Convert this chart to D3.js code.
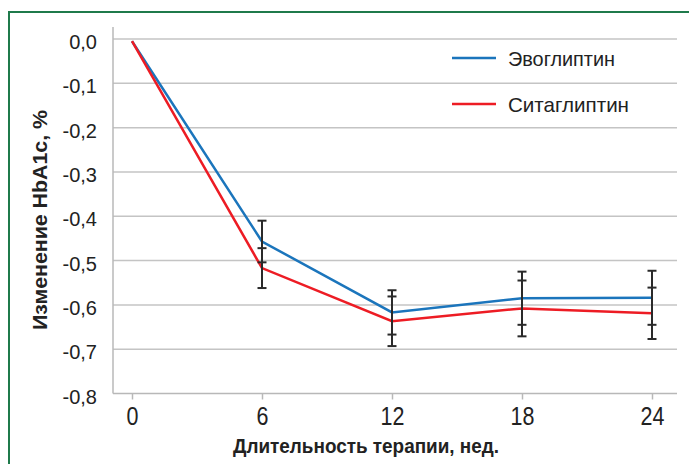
<!DOCTYPE html>
<html>
<head>
<meta charset="utf-8">
<script src="https://cdn.jsdelivr.net/npm/d3@7"></script>
<style>
  body { margin: 0; background: #fff; }
  svg { display: block; }
</style>
</head>
<body>
<div id="chart"></div>
<script>
// weeks of therapy
const weeks = [0, 6, 12, 18, 24];
const seriesNames = ["Эвоглиптин", "Ситаглиптин"];
const seriesColors = ["#1b75bc", "#ed1c24"];

// HbA1c change, %
const evoValues = [-0.005, -0.457, -0.617, -0.585, -0.584];
const sitaValues = [-0.005, -0.517, -0.637, -0.608, -0.619];
// error bar half widths (none at week 0)
const evoErr = [0, 0.047, 0.05, 0.06, 0.061];
const sitaErr = [0, 0.045, 0.056, 0.063, 0.058];

const yTicks = [0, -0.1, -0.2, -0.3, -0.4, -0.5, -0.6, -0.7, -0.8];

const width = 689;
const height = 464;
const font = "'Liberation Sans', Arial, sans-serif";

const svg = d3
  .select("#chart")
  .append("svg")
  .attr("width", width)
  .attr("height", height);

// green frame, open at right and bottom
svg
  .append("path")
  .attr("d", "M9,470 V12 H700")
  .attr("fill", "none")
  .attr("stroke", "#1f7a4b")
  .attr("stroke-width", 2);

const xScale = d3.scaleLinear().domain([0, 24]).range([132, 652]);
const yScale = d3.scaleLinear().domain([0, -0.8]).range([39, 393.5]);

const plotLeft = 113;
const plotRight = 677;

// horizontal grid lines
svg
  .append("g")
  .selectAll("line")
  .data(yTicks.slice(0, -1))
  .enter()
  .append("line")
  .attr("x1", plotLeft)
  .attr("x2", plotRight)
  .attr("y1", (d) => yScale(d))
  .attr("y2", (d) => yScale(d))
  .attr("stroke", "#c4c4c4")
  .attr("stroke-width", 1.5);

// x axis
const xAxis = svg
  .append("g")
  .attr("transform", `translate(0, ${yScale(-0.8)})`)
  .call(d3.axisBottom(xScale).tickValues(weeks).tickSize(6).tickPadding(8));
xAxis.select(".domain").remove();
xAxis.selectAll(".tick line").attr("stroke", "#b8b8b8").attr("stroke-width", 1.5);
// narrow, tall digits like the condensed face of the original
xAxis
  .selectAll("text")
  .attr("font-family", font)
  .attr("font-size", 25)
  .attr("fill", "#222")
  .attr("transform", "scale(0.86,1)");
svg
  .append("line")
  .attr("x1", plotLeft)
  .attr("x2", plotRight)
  .attr("y1", yScale(-0.8))
  .attr("y2", yScale(-0.8))
  .attr("stroke", "#b8b8b8")
  .attr("stroke-width", 1.5);

// y axis
const yAxis = svg
  .append("g")
  .attr("transform", `translate(${plotLeft}, 0)`)
  .call(
    d3
      .axisLeft(yScale)
      .tickValues(yTicks)
      .tickSize(0)
      .tickPadding(16)
      .tickFormat((d) => d3.format(".1f")(d).replace(".", ",").replace("−", "-"))
  );
yAxis.select(".domain").remove();
yAxis
  .selectAll("text")
  .attr("font-family", font)
  .attr("font-size", 20)
  .attr("dy", "0.48em")
  .attr("fill", "#222");
svg
  .append("line")
  .attr("x1", plotLeft)
  .attr("x2", plotLeft)
  .attr("y1", 27)
  .attr("y2", yScale(-0.8))
  .attr("stroke", "#b8b8b8")
  .attr("stroke-width", 1.5);

// lines
const line = d3
  .line()
  .x((d, i) => xScale(weeks[i]))
  .y((d) => yScale(d));

const allValues = [evoValues, sitaValues];
const allErr = [evoErr, sitaErr];

allValues.forEach((vals, s) => {
  svg
    .append("path")
    .datum(vals)
    .attr("d", line)
    .attr("fill", "none")
    .attr("stroke", seriesColors[s])
    .attr("stroke-width", 2.5);
});

// error bars
allValues.forEach((vals, s) => {
  const g = svg.append("g");
  weeks.forEach((w, i) => {
    if (allErr[s][i] === 0) return;
    const x = xScale(w);
    const top = yScale(vals[i] + allErr[s][i]);
    const bottom = yScale(vals[i] - allErr[s][i]);
    g.append("line")
      .attr("x1", x)
      .attr("x2", x)
      .attr("y1", top)
      .attr("y2", bottom)
      .attr("stroke", "#2a2a2a")
      .attr("stroke-width", 2);
    [top, bottom].forEach((y) => {
      g.append("line")
        .attr("x1", x - 4.5)
        .attr("x2", x + 4.5)
        .attr("y1", y)
        .attr("y2", y)
        .attr("stroke", "#2a2a2a")
        .attr("stroke-width", 2);
    });
  });
});

// legend
const legendWidths = [107, 121];
const legend = svg
  .append("g")
  .selectAll("g")
  .data(seriesNames)
  .enter()
  .append("g")
  .attr("transform", (d, i) => `translate(452, ${58 + i * 46})`);
legend
  .append("line")
  .attr("x1", 0)
  .attr("x2", 44)
  .attr("stroke", (d, i) => seriesColors[i])
  .attr("stroke-width", 2.5);
legend
  .append("text")
  .attr("x", 56)
  .attr("dy", "0.36em")
  .attr("font-family", font)
  .attr("font-size", 21)
  .attr("fill", "#222")
  .attr("textLength", (d, i) => legendWidths[i])
  .attr("lengthAdjust", "spacingAndGlyphs")
  .text((d) => d);

// axis titles
svg
  .append("text")
  .attr("x", 366)
  .attr("y", 453)
  .attr("text-anchor", "middle")
  .attr("font-family", font)
  .attr("font-weight", "bold")
  .attr("font-size", 21)
  .attr("fill", "#222")
  .attr("textLength", 266)
  .attr("lengthAdjust", "spacingAndGlyphs")
  .text("Длительность терапии, нед.");

svg
  .append("text")
  .attr("transform", "translate(47, 220) rotate(-90)")
  .attr("text-anchor", "middle")
  .attr("font-family", font)
  .attr("font-weight", "bold")
  .attr("font-size", 21)
  .attr("fill", "#222")
  .attr("textLength", 220)
  .attr("lengthAdjust", "spacingAndGlyphs")
  .text("Изменение HbA1c, %");
</script>
</body>
</html>
